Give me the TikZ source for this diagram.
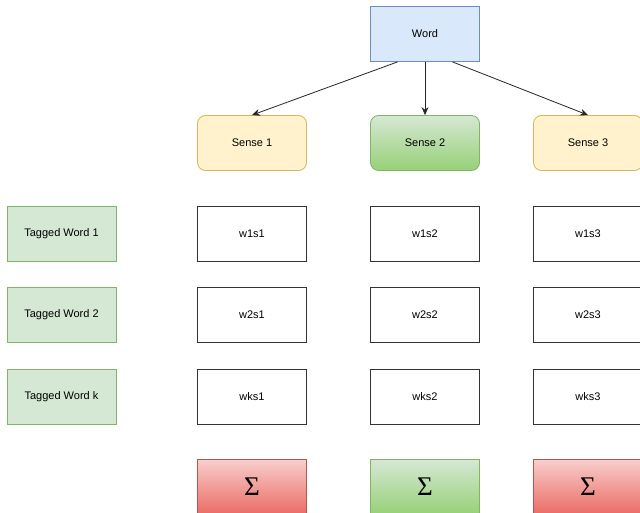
\documentclass[tikz,border=0pt]{standalone}
\usepackage{fontspec}
\setmainfont{Liberation Sans}
\newfontfamily\sigmafont{Liberation Serif}
\usetikzlibrary{calc,arrows.meta}

\definecolor{wordfill}{HTML}{DAE8FC}
\definecolor{wordline}{HTML}{6C8EBF}
\definecolor{yelfill}{HTML}{FFF2CC}
\definecolor{yelline}{HTML}{D6B656}
\definecolor{grnfill}{HTML}{D5E8D4}
\definecolor{grndark}{HTML}{97D077}
\definecolor{grnline}{HTML}{82B366}
\definecolor{redfill}{HTML}{F8CECC}
\definecolor{reddark}{HTML}{EA6B66}
\definecolor{redline}{HTML}{B85450}

\begin{document}
\begin{tikzpicture}[x=1pt,y=-1pt,
    box/.style={draw, line width=0.8pt, minimum width=109pt, minimum height=55pt,
                inner sep=0pt, font=\fontsize{11}{13}\selectfont},
    wordbox/.style={box, draw=wordline, fill=wordfill},
    sensebox/.style={box, rounded corners=8pt, draw=yelline, fill=yelfill},
    bestbox/.style={box, rounded corners=8pt, draw=grnline, top color=grnfill, bottom color=grndark},
    tagbox/.style={box, draw=grnline, fill=grnfill},
    cellbox/.style={box, draw=black!80, fill=white},
    sumlow/.style={box, draw=redline, top color=redfill, bottom color=reddark, font=\sigmafont\fontsize{27}{30}\selectfont},
    sumhigh/.style={box, draw=grnline, top color=grnfill, bottom color=grndark, font=\sigmafont\fontsize{27}{30}\selectfont},
    link/.style={draw=black!85, line width=0.8pt, -{Stealth[length=8pt,width=7pt]}}]
  \clip (0,0) rectangle (640,513);
  \fill[white] (0,0) rectangle (640,513);

  \node[wordbox] (word) at (425,34) {Word};

  \node[sensebox] (sense1) at (252,143) {Sense 1};
  \node[bestbox]  (sense2) at (425,143) {Sense 2};
  \node[sensebox] (sense3) at (588,143) {Sense 3};

  \draw[link] ($(word.south)!0.5!(word.south west)$) -- (sense1.north);
  \draw[link] (word.south) -- (sense2.north);
  \draw[link] ($(word.south)!0.5!(word.south east)$) -- (sense3.north);

  \node[tagbox] (tag1) at (61.5,234) {Tagged Word 1};
  \node[tagbox] (tag2) at (61.5,315) {Tagged Word 2};
  \node[tagbox] (tagk) at (61.5,397) {Tagged Word k};

  % one cell per tagged word and sense
  \foreach \r/\y in {1/234,2/315,k/397}{
    \node[cellbox] (w\r s1) at (252,\y) {w\r s1};
    \node[cellbox] (w\r s2) at (425,\y) {w\r s2};
    \node[cellbox] (w\r s3) at (588,\y) {w\r s3};
  }

  \node[sumlow]  (sum1) at (252,487) {Σ};
  \node[sumhigh] (sum2) at (425,487) {Σ};
  \node[sumlow]  (sum3) at (588,487) {Σ};
\end{tikzpicture}
\end{document}
